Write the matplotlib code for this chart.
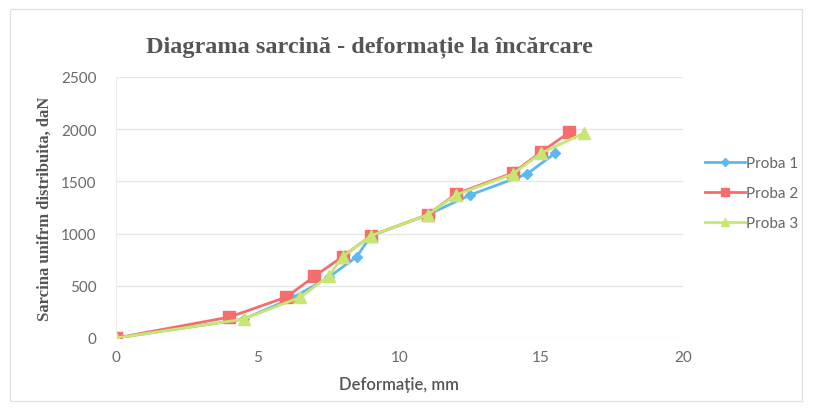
import numpy as np
import matplotlib
matplotlib.use("Agg")
import matplotlib.pyplot as plt
from matplotlib.patches import Rectangle

# deformation (mm) vs load (daN)
x1 = [0, 4.5, 6.2, 7.5, 8.5, 9, 11, 12.5, 14.5, 15.5]
y1 = [0, 180, 380, 580, 780, 980, 1180, 1370, 1570, 1770]
x2 = [0, 4, 6, 7, 8, 9, 11, 12, 14, 15, 16]
y2 = [0, 200, 390, 590, 780, 980, 1180, 1380, 1580, 1780, 1970]
x3 = [0, 4.5, 6.5, 7.5, 8, 9, 11, 12, 14, 15, 16.5]
y3 = [0, 180, 390, 590, 780, 980, 1180, 1370, 1570, 1770, 1960]

names = ["Proba 1", "Proba 2", "Proba 3"]
colors = ["#5DB8F0", "#F46E6E", "#C6E873"]

fig = plt.figure(figsize=(8.13, 4.10), dpi=100)
fig.patches.append(Rectangle((0.012, 0.02), 0.975, 0.955, transform=fig.transFigure,
                             fill=False, ec="#e2e2e2", lw=1))
ax = fig.add_axes([0.1427, 0.1732, 0.697, 0.6366])

ax.plot(x1, y1, color=colors[0], marker="D", ms=5, lw=2, label=names[0])
ax.plot(x2, y2, color=colors[1], marker="s", ms=8, lw=2, label=names[1])
ax.plot(x3, y3, color=colors[2], marker="^", ms=8, lw=2, label=names[2])

ax.set_xlim(0, 20)
ax.set_ylim(0, 2500)
ax.set_xticks(np.arange(0, 21, 5))
ax.set_yticks(np.arange(0, 2501, 500))
ax.grid(axis="y", color="#e6e6e6", lw=1)
ax.set_axisbelow(True)
for s in ["top", "right", "bottom"]:
    ax.spines[s].set_visible(False)
ax.spines["left"].set_color("#eeeeee")
ax.tick_params(length=0, colors="#6a6a6a", labelsize=11)
for lab in ax.get_xticklabels() + ax.get_yticklabels():
    lab.set_family("Lato")
ax.tick_params(axis="y", pad=14)
ax.tick_params(axis="x", pad=9)

ax.set_xlabel("Deformație, mm", fontsize=12, fontweight="semibold", color="#555555",
              family="Lato", labelpad=8)
ax.set_ylabel("Sarcina unifrm distribuita, daN", fontsize=12, fontweight="bold",
              color="#555555", family="Liberation Serif", labelpad=6)
fig.text(0.455, 0.885, "Diagrama sarcină - deformație la încărcare", ha="center",
         va="center", fontsize=17.5, fontweight="bold", family="Liberation Serif",
         color="#555555")

ax.legend(loc="center left", bbox_to_anchor=(1.015, 0.555), frameon=False,
          prop={"family": "Lato", "size": 11}, labelcolor="#666666",
          handlelength=2.6, handletextpad=0.1, labelspacing=1.05, markerscale=0.8)

plt.savefig("out.png", dpi=100)
